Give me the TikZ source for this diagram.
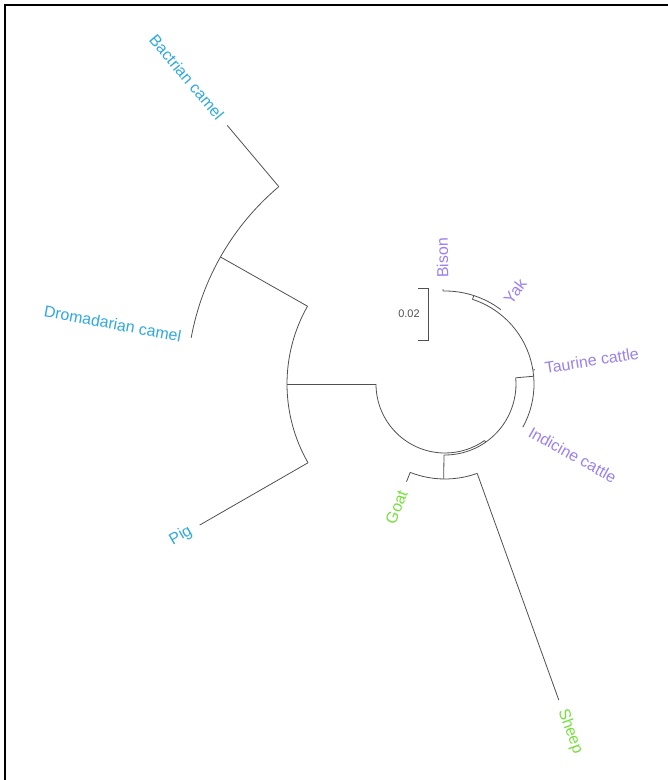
\documentclass[tikz,border=0pt]{standalone}
\usepackage{fontspec}
\setmainfont{Liberation Sans}
\usetikzlibrary{calc}
\definecolor{camelblue}{HTML}{2FA8E0}
\definecolor{bovpurple}{HTML}{9A80F0}
\definecolor{capgreen}{HTML}{74E03C}
\definecolor{treegray}{HTML}{505050}

\begin{document}
\begin{tikzpicture}[x=1bp, y=1bp,
  branch/.style={draw=treegray, line width=0.8bp},
  leaf/.style={inner sep=0pt, font=\fontsize{16}{19}\selectfont},
  lblleft/.style={leaf, anchor=east},
  lblright/.style={leaf, anchor=west}
]
\useasboundingbox (0,0) rectangle (668,780);
\draw[line width=1.5bp] (5,0) -- (5,775) -- (668,775);

% tree, centred on the fan origin
\begin{scope}[shift={(445,396)}]
\coordinate (root) at (180:69);
\coordinate (cp) at (180:158);
\coordinate (cpTop) at (150.5:158);
\coordinate (cpBot) at (209.9:158);
\coordinate (camel) at (150.5:258);
\coordinate (bacBase) at (130.1:258);
\coordinate (bac) at (130.1:338);
\coordinate (dro) at (169.7:258);
\coordinate (pig) at (209.9:283);
\coordinate (rootEnd) at (305:69);
\coordinate (ingr) at (305:71);
\coordinate (gsBase) at (269.2:71);
\coordinate (gs) at (269.2:95);
\coordinate (goatBase) at (248.5:95);
\coordinate (goat) at (248.5:105);
\coordinate (sheepBase) at (289.8:95);
\coordinate (sheep) at (289.8:336);
\coordinate (bovBase) at (5:71);
\coordinate (bov) at (5:89);
\coordinate (ind) at (-29:89);
\coordinate (tauBase) at (9:89);
\coordinate (tau) at (9:91);
\coordinate (byBase) at (72:89);
\coordinate (by) at (72:93);
\coordinate (yak) at (53:93);
\coordinate (bisBase) at (91.2:93);
\coordinate (bis) at (91.2:95);

% camels and pig
\draw[branch] (root) -- (cp);
\draw[branch] (cpTop) arc[start angle=150.5, end angle=209.9, radius=158];
\draw[branch] (cpTop) -- (camel);
\draw[branch] (bacBase) arc[start angle=130.1, end angle=169.7, radius=258];
\draw[branch] (bacBase) -- (bac);
\draw[branch] (cpBot) -- (pig);
% ruminants
\draw[branch] (root) arc[start angle=180, end angle=305, radius=69];
\draw[branch] (rootEnd) -- (ingr);
\draw[branch] (gsBase) arc[start angle=269.2, end angle=365, radius=71];
\draw[branch] (gsBase) -- (gs);
\draw[branch] (goatBase) arc[start angle=248.5, end angle=289.8, radius=95];
\draw[branch] (goatBase) -- (goat);
\draw[branch] (sheepBase) -- (sheep);
\draw[branch] (bovBase) -- (bov);
\draw[branch] (ind) arc[start angle=-29, end angle=72, radius=89];
\draw[branch] (tauBase) -- (tau);
\draw[branch] (byBase) -- (by);
\draw[branch] (yak) arc[start angle=53, end angle=91.2, radius=93];
\draw[branch] (bisBase) -- (bis);

% tip labels
\node[lblleft, text=camelblue, rotate=-49.9] (bacL) at (130.1:348) {Bactrian camel};
\node[lblleft, text=camelblue, rotate=-10.3] (droL) at (169.7:268) {Dromadarian camel};
\node[lblleft, text=camelblue, rotate=29.9] (pigL) at (209.9:293) {Pig};
\node[lblleft, text=capgreen, rotate=68.5] (goatL) at (248.5:115) {Goat};
\node[lblright, text=capgreen, rotate=-70.2] (sheepL) at (289.8:346) {Sheep};
\node[lblright, text=bovpurple, rotate=-29] (indL) at (-29:97) {Indicine cattle};
\node[lblright, text=bovpurple, rotate=9] (tauL) at (9:101) {Taurine cattle};
\node[lblright, text=bovpurple, rotate=53] (yakL) at (53:103) {Yak};
\node[lblright, text=bovpurple, rotate=91.2] (bisL) at (91.2:106) {Bison};
\end{scope}

% scale bar
\coordinate (sbTop) at (428,492);
\coordinate (sbBot) at (428,440);
\draw[branch] ([xshift=-10bp]sbTop) -- (sbTop) -- (sbBot) -- ([xshift=-10bp]sbBot);
\node[font=\fontsize{11}{13}\selectfont, text=treegray] (sbL) at (409,466) {0.02};
\end{tikzpicture}
\end{document}
